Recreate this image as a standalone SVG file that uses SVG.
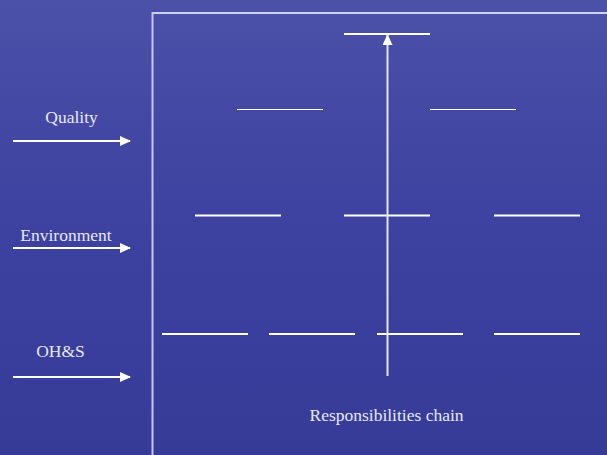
<svg xmlns="http://www.w3.org/2000/svg" width="607" height="455" viewBox="0 0 607 455">
<defs>
<linearGradient id="bg" x1="0" y1="0" x2="0" y2="1">
<stop offset="0" stop-color="#4b50a8"/>
<stop offset="0.5" stop-color="#3d41a0"/>
<stop offset="1" stop-color="#363b98"/>
</linearGradient>
<marker id="ah" markerWidth="11" markerHeight="10" refX="10" refY="5" orient="auto" markerUnits="userSpaceOnUse">
<path d="M0,0 L11,5 L0,10 Z" fill="#ffffff"/>
</marker>
<marker id="ahUp" markerWidth="11" markerHeight="10" refX="10" refY="5" orient="auto" markerUnits="userSpaceOnUse">
<path d="M0,0 L11,5 L0,10 Z" fill="#ffffff"/>
</marker>
</defs>
<style>
.lbl{font-family:"Liberation Serif","Times New Roman",serif;font-size:17.5px;fill:#e8e8f4}
.bar{stroke:#ffffff;stroke-width:2}
.thin{stroke:#ffffff;stroke-width:1.2}
.arr{stroke:#ffffff;stroke-width:2;fill:none}
</style>
<rect width="607" height="455" fill="url(#bg)"/>
<g id="frame">
<line x1="152" y1="13" x2="607" y2="13" stroke="#ffffff" stroke-width="1.5"/>
<line x1="152.5" y1="12" x2="152.5" y2="455" stroke="#c8c8ee" stroke-width="2"/>
</g>
<g id="labels">
<g id="quality"><text class="lbl" x="71.5" y="123" text-anchor="middle">Quality</text></g>
<g id="environment"><text class="lbl" x="66" y="241" text-anchor="middle">Environment</text></g>
<g id="ohs"><text class="lbl" x="60.5" y="357" text-anchor="middle">OH&amp;S</text></g>
<g id="chain"><text class="lbl" x="386.5" y="421" text-anchor="middle">Responsibilities chain</text></g>
</g>
<g id="levels">
<line class="bar" x1="344" y1="34" x2="430" y2="34"/>
<line class="thin" x1="237" y1="109.5" x2="323" y2="109.5"/>
<line class="thin" x1="430" y1="109.5" x2="516" y2="109.5"/>
<line class="bar" x1="195" y1="215.5" x2="281" y2="215.5"/>
<line class="bar" x1="344" y1="215.5" x2="430" y2="215.5"/>
<line class="bar" x1="494" y1="215.5" x2="580" y2="215.5"/>
<line class="bar" x1="162" y1="334" x2="248" y2="334"/>
<line class="bar" x1="269" y1="334" x2="355" y2="334"/>
<line class="bar" x1="377" y1="334" x2="463" y2="334"/>
<line class="bar" x1="494" y1="334" x2="580" y2="334"/>
</g>
<g id="connectors">
<line class="arr" x1="13" y1="141" x2="130" y2="141" marker-end="url(#ah)"/>
<line class="arr" x1="13" y1="248" x2="130" y2="248" marker-end="url(#ah)"/>
<line class="arr" x1="13" y1="377" x2="130" y2="377" marker-end="url(#ah)"/>
<line x1="387.5" y1="376" x2="387.5" y2="35" stroke="#e6e6f6" stroke-width="2" marker-end="url(#ahUp)"/>
</g>
</svg>
